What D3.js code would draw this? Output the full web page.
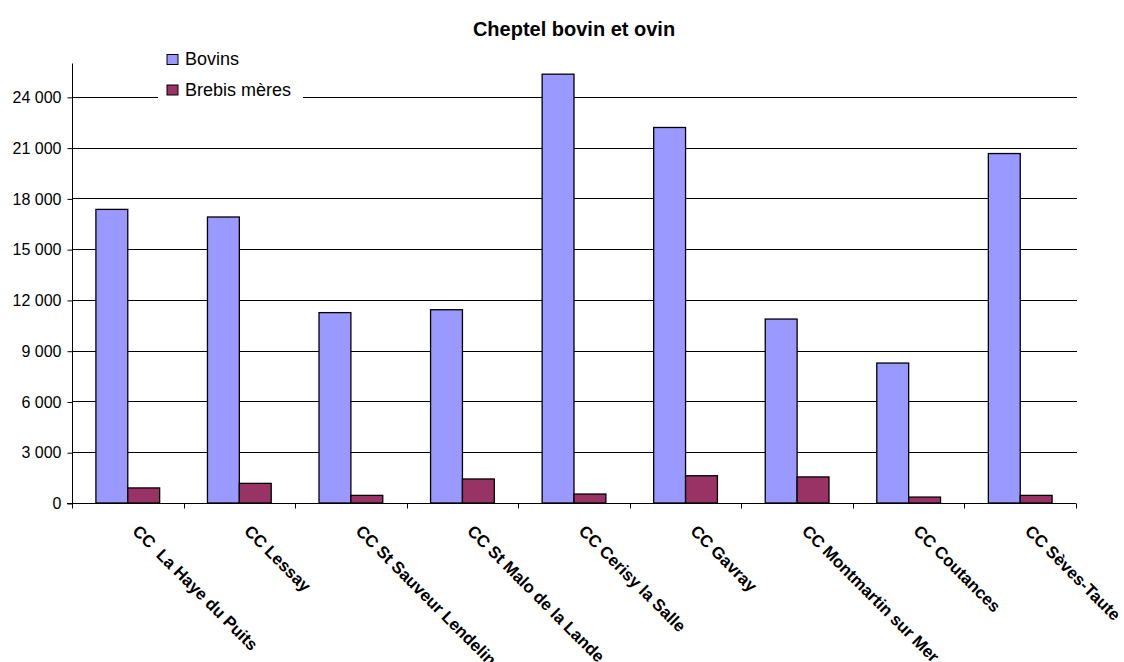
<!DOCTYPE html>
<html>
<head>
<meta charset="utf-8">
<script src="https://cdn.jsdelivr.net/npm/d3@7"></script>
<style>
  body { margin: 0; background: #fff; }
  svg { font-family: Arial, "Liberation Sans", sans-serif; }
</style>
</head>
<body>
<svg width="1124" height="662"></svg>
<script>
const categories = ["CC  La Haye du Puits", "CC Lessay", "CC St Sauveur Lendelin", "CC St Malo de la Lande",
  "CC Cerisy la Salle", "CC Gavray", "CC Montmartin sur Mer", "CC Coutances", "CC Sèves-Taute"];
const seriesNames = ["Bovins", "Brebis mères"];
const bovins = [17350, 16900, 11250, 11420, 25340, 22190, 10870, 8270, 20650];
const brebis = [890, 1160, 450, 1420, 530, 1610, 1540, 350, 450];
const yTicks = [0, 3000, 6000, 9000, 12000, 15000, 18000, 21000, 24000];

const colors = ["#9999FF", "#993366"];
const svg = d3.select("svg");

const plotL = 72, plotR = 1076, plotT = 63, plotB = 503;

const x = d3.scaleBand().domain(categories).range([plotL, plotR]);
const x1 = d3.scaleBand().domain(seriesNames).range([0, x.bandwidth()]).paddingInner(0).paddingOuter(0.75);
const y = d3.scaleLinear().domain([0, 26000]).range([plotB, plotT]);

const fmt = v => d3.format(",")(v).replace(/,/g, " ");

// gridlines
svg.append("g")
  .selectAll("line")
  .data(yTicks.filter(d => d > 0))
  .enter().append("line")
  .attr("x1", plotL).attr("x2", plotR + 1)
  .attr("y1", d => Math.round(y(d)) + 0.5).attr("y2", d => Math.round(y(d)) + 0.5)
  .attr("stroke", "#000").attr("stroke-width", 1);

// bars
const data = categories.map((c, i) => ({ cat: c, vals: [bovins[i], brebis[i]] }));
const groups = svg.append("g").selectAll("g")
  .data(data)
  .enter().append("g")
  .attr("transform", d => `translate(${x(d.cat)},0)`);

groups.selectAll("rect")
  .data(d => d.vals.map((v, j) => ({ name: seriesNames[j], v: v, j: j })))
  .enter().append("rect")
  .attr("x", d => x1(d.name))
  .attr("width", x1.bandwidth())
  .attr("y", d => y(d.v))
  .attr("height", d => plotB - y(d.v))
  .attr("fill", d => colors[d.j])
  .attr("stroke", "#000")
  .attr("stroke-width", 1.3);

// y axis
const yAxis = svg.append("g")
  .attr("transform", `translate(${plotL + 0.5},0.5)`)
  .call(d3.axisLeft(y).tickValues(yTicks).tickSize(5).tickPadding(6).tickFormat(fmt));
yAxis.select(".domain").attr("stroke", "#000").attr("d", `M0,${plotT}V${plotB}`);
yAxis.selectAll("text").style("font-size", "16px").attr("fill", "#000")
  .attr("font-family", "Arial, 'Liberation Sans', sans-serif");

// x axis
const xAxis = svg.append("g").attr("transform", `translate(0,${plotB + 0.5})`);
xAxis.append("line").attr("x1", plotL - 5).attr("x2", plotR).attr("stroke", "#000");
xAxis.selectAll(".tk")
  .data(categories.concat(["end"]))
  .enter().append("line")
  .attr("x1", (d, i) => Math.round(i < categories.length ? x(d) : plotR) + 0.5)
  .attr("x2", (d, i) => Math.round(i < categories.length ? x(d) : plotR) + 0.5)
  .attr("y1", 0).attr("y2", 5)
  .attr("stroke", "#000");

svg.append("g").selectAll("text")
  .data(categories)
  .enter().append("text")
  .attr("transform", d => `translate(${x(d) + x.bandwidth() / 2 + 8},${plotB + 25}) rotate(45)`)
  .attr("dy", "0.35em")
  .style("font-size", "16.8px")
  .style("font-weight", "bold")
  .style("white-space", "pre")
  .attr("fill", "#000")
  .text(d => d);

// title
svg.append("text")
  .attr("x", 574).attr("y", 36)
  .attr("text-anchor", "middle")
  .style("font-size", "20px")
  .style("font-weight", "bold")
  .text("Cheptel bovin et ovin");

// legend
const legend = svg.append("g").attr("transform", "translate(158,44)");
legend.append("rect").attr("x", 0).attr("y", 0).attr("width", 145).attr("height", 58).attr("fill", "#fff");
const items = legend.selectAll(".item")
  .data(seriesNames)
  .enter().append("g")
  .attr("transform", (d, i) => `translate(0,${i * 30.5})`);
items.append("rect")
  .attr("x", 9).attr("y", 10.5).attr("width", 11).attr("height", 10)
  .attr("fill", (d, i) => colors[i]).attr("stroke", "#000").attr("stroke-width", 1);
items.append("text")
  .attr("x", 27).attr("y", 21)
  .style("font-size", "18px")
  .text(d => d);
</script>
</body>
</html>
